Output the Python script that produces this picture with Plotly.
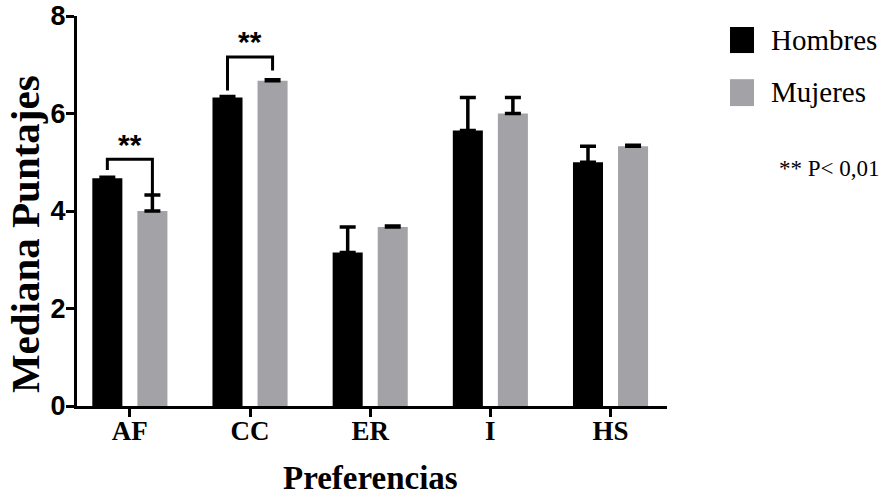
import plotly.graph_objects as go

categories = ["AF", "CC", "ER", "I", "HS"]
hombres = [4.67, 6.33, 3.15, 5.65, 5.0]
hombres_err = [0.02, 0.02, 0.52, 0.68, 0.33]
mujeres = [4.0, 6.67, 3.67, 6.0, 5.33]
mujeres_err = [0.33, 0.02, 0.02, 0.33, 0.02]
y_ticks = [0, 2, 4, 6, 8]

BLACK = "#000000"
GRAY = "#a3a2a7"
SERIF = "Liberation Serif, Times New Roman, serif"
SANS = "Liberation Sans, Arial, sans-serif"

xs = list(range(len(categories)))
W = 0.25

fig = go.Figure()
fig.add_trace(go.Bar(
    x=xs, y=hombres, width=W, offset=-0.3125, marker=dict(color=BLACK, line_width=0),
    error_y=dict(type="data", symmetric=False, array=hombres_err, arrayminus=[0]*5,
                 color=BLACK, thickness=3.5, width=8),
    name="Hombres", showlegend=False))
fig.add_trace(go.Bar(
    x=xs, y=mujeres, width=W, offset=0.0625, marker=dict(color=GRAY, line_width=0),
    error_y=dict(type="data", symmetric=False, array=mujeres_err, arrayminus=[0]*5,
                 color=BLACK, thickness=3.5, width=8),
    name="Mujeres", showlegend=False))

shapes = []
annotations = []
# significance brackets
def bracket(i, ytop, yleft, yright):
    xl = i - 0.1875
    xr = i + 0.1875
    shapes.append(dict(type="path", xref="x", yref="y",
                       path=f"M {xl},{yleft} L {xl},{ytop} L {xr},{ytop} L {xr},{yright}",
                       line=dict(color=BLACK, width=3)))
    annotations.append(dict(x=i, y=ytop + 0.22, xref="x", yref="y", text="<b>**</b>",
                            showarrow=False, font=dict(family=SANS, size=30, color=BLACK),
                            xanchor="center", yanchor="bottom", yshift=-14))

bracket(0, 5.06, 4.84, mujeres[0] + mujeres_err[0])
bracket(1, 7.16, 6.47, 6.88)

# legend (manual)
shapes.append(dict(type="rect", xref="paper", yref="paper", x0=1.1068, x1=1.1475,
                   y0=0.905, y1=0.9718, fillcolor=BLACK, line_width=0))
shapes.append(dict(type="rect", xref="paper", yref="paper", x0=1.1068, x1=1.1475,
                   y0=0.769, y1=0.838, fillcolor=GRAY, line_width=0))
annotations.append(dict(x=1.1729, y=0.9385, xref="paper", yref="paper", text="Hombres",
                        showarrow=False, xanchor="left", yanchor="middle",
                        font=dict(family=SERIF, size=29, color=BLACK)))
annotations.append(dict(x=1.1729, y=0.805, xref="paper", yref="paper", text="Mujeres",
                        showarrow=False, xanchor="left", yanchor="middle",
                        font=dict(family=SERIF, size=29, color=BLACK)))
annotations.append(dict(x=1.1864, y=0.610, xref="paper", yref="paper", text="** P< 0,01",
                        showarrow=False, xanchor="left", yanchor="middle",
                        font=dict(family=SERIF, size=23, color=BLACK)))
# axis titles
annotations.append(dict(x=-0.088, y=0.441, xref="paper", yref="paper", text="<b>Mediana Puntajes</b>",
                        showarrow=False, xanchor="center", yanchor="middle", textangle=-90,
                        font=dict(family=SERIF, size=41, color=BLACK)))
annotations.append(dict(x=0.4975, y=-0.1846, xref="paper", yref="paper", text="<b>Preferencias</b>",
                        showarrow=False, xanchor="center", yanchor="middle",
                        font=dict(family=SERIF, size=33, color=BLACK)))

fig.update_layout(
    width=888, height=500,
    margin=dict(l=77, r=221, t=16, b=94),
    plot_bgcolor="white", paper_bgcolor="white",
    barmode="overlay",
    shapes=shapes, annotations=annotations,
    xaxis=dict(range=[-0.44, 4.47], tickvals=xs, ticktext=categories,
               showline=True, linecolor=BLACK, linewidth=3,
               ticks="outside", ticklen=8, tickwidth=3, tickcolor=BLACK,
               ticklabelstandoff=-9,
               tickfont=dict(family=SERIF, size=27, color=BLACK, weight="bold"),
               showgrid=False, zeroline=False, fixedrange=True, automargin=False),
    yaxis=dict(range=[0, 8], tickvals=y_ticks,
               showline=True, linecolor=BLACK, linewidth=3,
               ticks="outside", ticklen=8, tickwidth=3, tickcolor=BLACK,
               ticklabelstandoff=-5,
               tickfont=dict(family=SANS, size=27, color=BLACK, weight="bold"),
               showgrid=False, zeroline=False, fixedrange=True, automargin=False),
)

fig.write_html("out.html")
